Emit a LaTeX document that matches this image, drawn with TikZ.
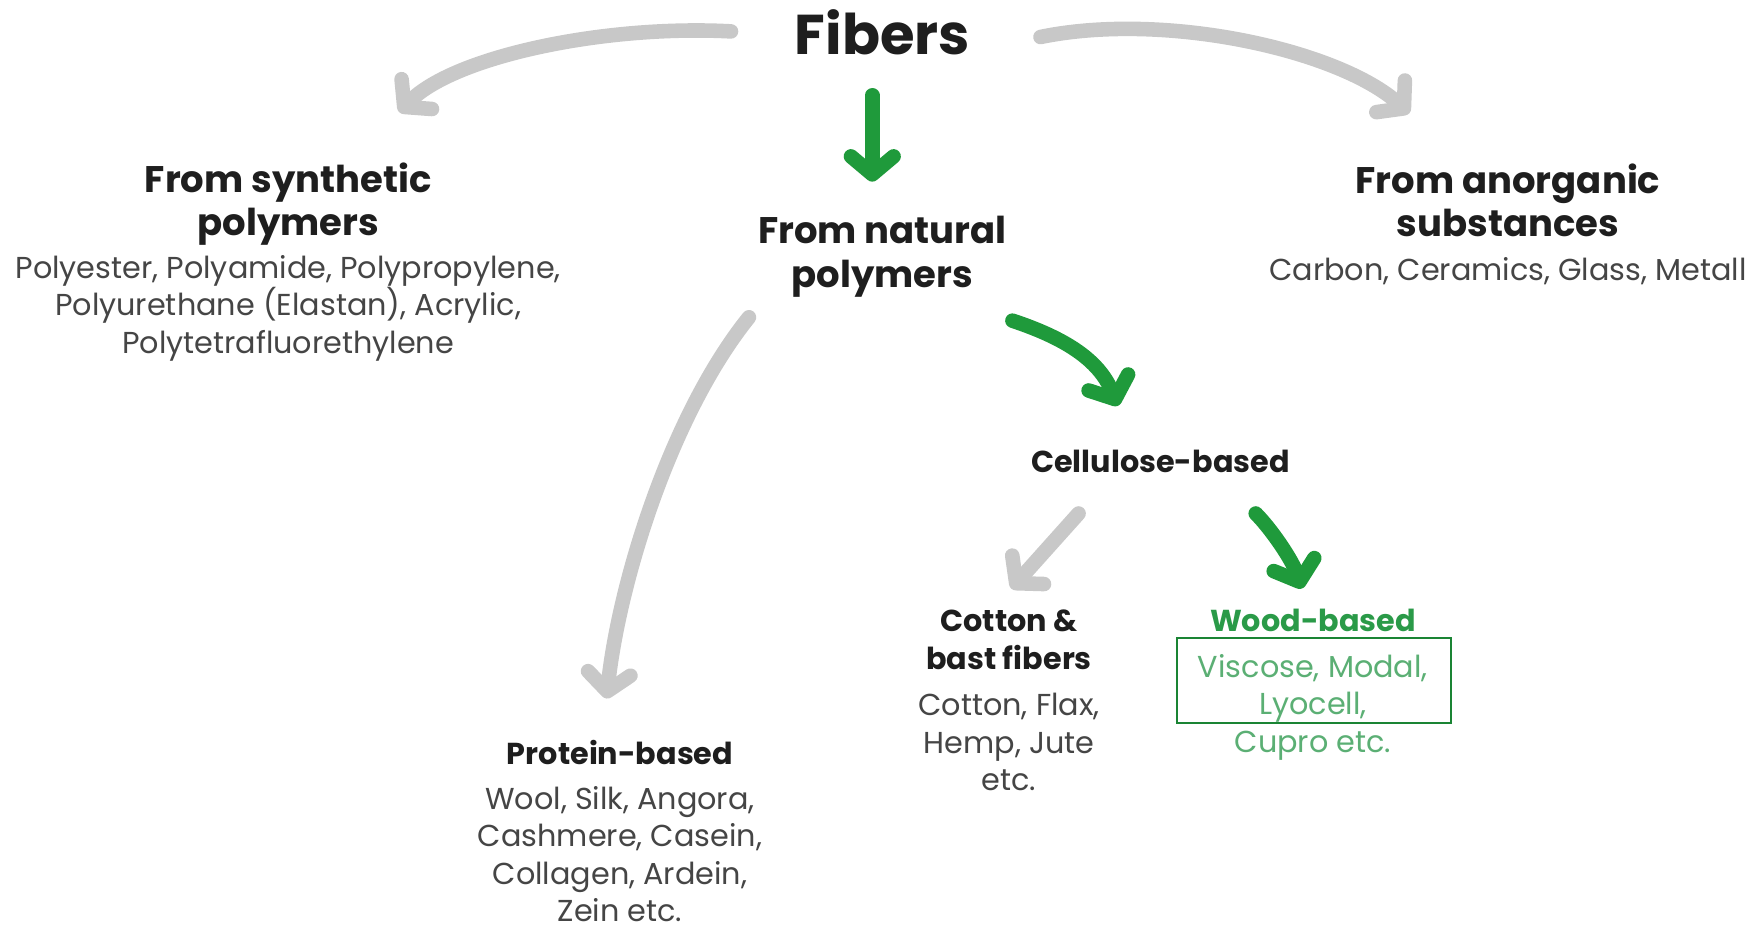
\documentclass[tikz,border=0pt]{standalone}
\usepackage{fontspec}
\setmainfont{Poppins}
\usetikzlibrary{arrows.meta}
\definecolor{headc}{HTML}{1E1E1E}
\definecolor{bodyc}{HTML}{454545}
\definecolor{arrowgray}{HTML}{C8C8C8}
\definecolor{arrowgreen}{HTML}{1F9A3B}
\definecolor{woodc}{HTML}{2A9A48}
\definecolor{woodlight}{HTML}{5BAF74}
\definecolor{boxc}{HTML}{1A8434}
\begin{document}
\begin{tikzpicture}[x=1pt,y=-1pt,
  fibersfont/.style={font=\fontsize{50}{60}\selectfont\bfseries, text=headc},
  headfont/.style={font=\fontsize{33}{38.5}\selectfont\bfseries, text=headc, align=center},
  subfont/.style={font=\fontsize{27}{34}\selectfont\bfseries, text=headc, align=center},
  bodyfont/.style={font=\fontsize{27}{33.3}\selectfont, text=bodyc, align=center},
  lbl/.style={inner sep=0pt, anchor=base},
  grayarrow/.style={draw=arrowgray, line width=13pt, line cap=round, -{Straight Barb[length=16pt, width=38pt, round]}},
  greenarrow/.style={draw=arrowgreen, line width=13pt, line cap=round, -{Straight Barb[length=16pt, width=38pt, round]}},
  woodframe/.style={draw=boxc, line width=1.8pt, minimum width=244pt, minimum height=76pt, inner sep=0pt}
]
\useasboundingbox[fill=white] (0,0) rectangle (1568,830);

% texts (anchor base = baseline of the last line)
\node[lbl, fibersfont] (fibers) at (787,49) {Fibers};
\node[lbl, headfont] (natural) at (787,256) {From natural\\polymers};
\node[lbl, headfont] (synth) at (257,210) {From synthetic\\polymers};
\node[lbl, bodyfont] (synthb) at (257,315) {Polyester, Polyamide, Polypropylene,\\Polyurethane (Elastan), Acrylic,\\Polytetrafluorethylene};
\node[lbl, headfont] (anorg) at (1345,211) {From anorganic\\substances};
\node[lbl, bodyfont] (anorgb) at (1345,250) {Carbon, Ceramics, Glass, Metall};
\node[lbl, subfont] (cell) at (1035,421) {Cellulose-based};
\node[lbl, subfont] (cotton) at (900,597) {Cotton \&\\bast fibers};
\node[lbl, bodyfont] (cottonb) at (900,705) {Cotton, Flax,\\Hemp, Jute\\etc.};
\node[lbl, subfont, text=woodc] (wood) at (1171,563) {Wood-based};
\node[lbl, bodyfont, text=woodlight] (woodb) at (1171,671) {Viscose, Modal,\\Lyocell,\\Cupro etc.};
\node[woodframe] (woodbox) at (1172,607) {};
\node[lbl, subfont] (protein) at (553,682) {Protein-based};
\node[lbl, bodyfont] (proteinb) at (553,822) {Wool, Silk, Angora,\\Cashmere, Casein,\\Collagen, Ardein,\\Zein etc.};

% arrow end points
\coordinate (a1s) at (652,28);  \coordinate (a1e) at (356,100);
\coordinate (a7s) at (928,33);  \coordinate (a7e) at (1257,101);
\coordinate (a2s) at (778,85);  \coordinate (a2e) at (778,162);
\coordinate (a3s) at (668,283); \coordinate (a3e) at (541,623);
\coordinate (a4s) at (903,286); \coordinate (a4e) at (997,362);
\coordinate (a5s) at (962,458); \coordinate (a5e) at (902,525);
\coordinate (a6s) at (1120,458);\coordinate (a6e) at (1161,525);

\draw[grayarrow] (a1s) .. controls (540,22) and (405,50) .. (a1e);
\draw[grayarrow] (a7s) .. controls (1040,10) and (1195,45) .. (a7e);
\draw[greenarrow] (a2s) -- (a2e);
\draw[grayarrow] (a3s) .. controls (598,370) and (552,520) .. (a3e);
\draw[greenarrow] (a4s) .. controls (948,301) and (980,320) .. (a4e);
\draw[grayarrow] (a5s) -- (a5e);
\draw[greenarrow] (a6s) .. controls (1134,472) and (1153,500) .. (a6e);
\end{tikzpicture}
\end{document}
